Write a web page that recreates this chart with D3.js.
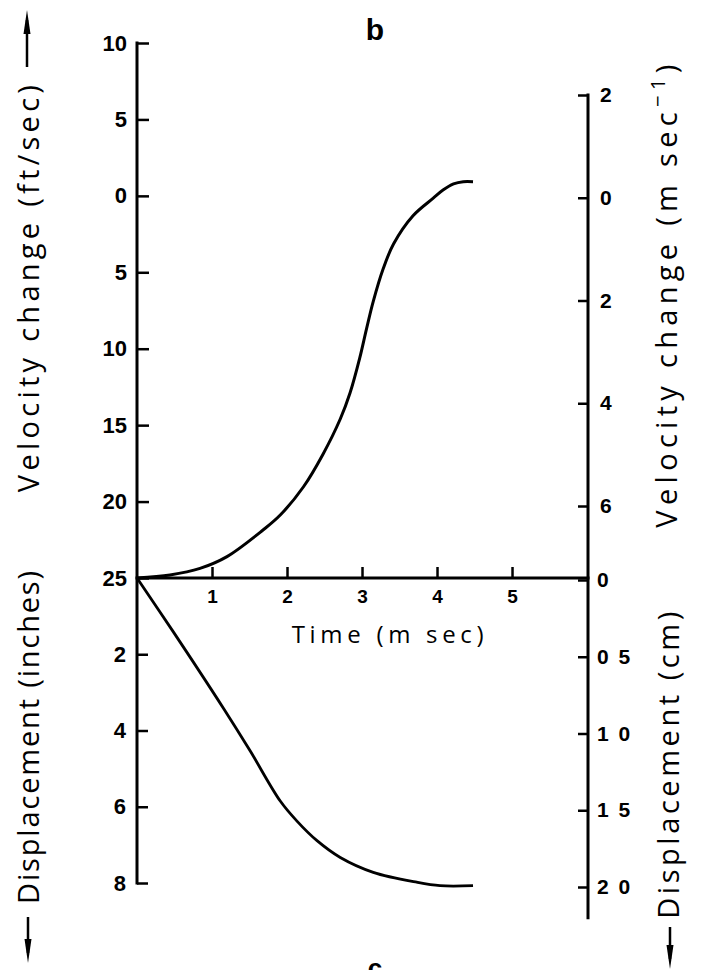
<!DOCTYPE html>
<html><head><meta charset="utf-8">
<script src="https://cdn.jsdelivr.net/npm/d3@7"></script>
<style>body{margin:0;background:#fff}svg{display:block}</style>
</head><body>
<svg id="chart" width="705" height="970"></svg>
<script>
// ---- data ----
const velTime   = [0, 0.44, 0.84, 1.2, 1.68, 1.91, 2.22, 2.48, 2.71, 2.84, 2.97, 3.06, 3.15, 3.28, 3.42, 3.68, 3.95, 4.08, 4.22, 4.35, 4.48];
const velFtSec  = [-25, -24.8, -24.37, -23.6, -21.86, -20.88, -19.03, -16.9, -14.6, -12.9, -10.6, -8.7, -6.9, -4.8, -3.15, -1.3, -0.15, 0.38, 0.78, 0.93, 0.93];
const dispTime   = [0, 0.48, 1.15, 1.51, 1.91, 2.13, 2.4, 2.71, 3.15, 3.73, 4.04, 4.48];
const dispInches = [0, 1.4, 3.41, 4.54, 5.85, 6.37, 6.89, 7.33, 7.72, 7.98, 8.07, 8.07];
const timeTicks = [1, 2, 3, 4, 5];
const velFtTicks = [10, 5, 0, -5, -10, -15, -20, -25];
const velFtTickLabels = ["10", "5", "0", "5", "10", "15", "20", "25"];
const dispInTicks = [2, 4, 6, 8];
const dispInTickLabels = ["2", "4", "6", "8"];
const velMsTicks = [2, 0, -2, -4, -6];
const velMsTickLabels = ["2", "0", "2", "4", "6"];
const dispCmTicks = [0, 5, 10, 15, 20];
const dispCmTickLabels = ["0", "0 5", "1 0", "1 5", "2 0"];

// ---- layout ----
const svg = d3.select("#chart");
const leftX = 137, rightX = 588;
const x = d3.scaleLinear().domain([0, 6.013]).range([leftX, rightX]);
const yVel = d3.scaleLinear().domain([10, -25]).range([43, 578]);
const yMs = d3.scaleLinear().domain([2, -6]).range([95, 506]);
const yIn = d3.scaleLinear().domain([0, 8]).range([578, 883]);
const yCm = d3.scaleLinear().domain([0, 20]).range([580, 887]);
const axisY = yVel(-25);
const numFont = "'Liberation Sans', Arial, sans-serif";
const txtFont = "'Open Sans', 'DejaVu Sans', sans-serif";

function styleAxis(g, fs) {
  g.select(".domain").remove();
  g.selectAll(".tick line").attr("stroke", "#000").attr("stroke-width", 2.5);
  g.selectAll(".tick text").attr("fill", "#000").attr("font-family", numFont)
    .attr("font-weight", "bold").attr("font-size", fs);
}

// axes
svg.append("g").attr("transform", `translate(${leftX},0)`)
  .call(d3.axisLeft(yVel).tickValues(velFtTicks).tickFormat((d, i) => velFtTickLabels[i])
    .tickSizeInner(-12).tickSizeOuter(0).tickPadding(10))
  .call(g => styleAxis(g, 22));
svg.append("g").attr("transform", `translate(${leftX},0)`)
  .call(d3.axisLeft(yIn).tickValues(dispInTicks).tickFormat((d, i) => dispInTickLabels[i])
    .tickSizeInner(-11).tickSizeOuter(0).tickPadding(11))
  .call(g => styleAxis(g, 22));
svg.append("g").attr("transform", `translate(${rightX},0)`)
  .call(d3.axisRight(yMs).tickValues(velMsTicks).tickFormat((d, i) => velMsTickLabels[i])
    .tickSizeInner(-10).tickSizeOuter(0).tickPadding(12))
  .call(g => styleAxis(g, 21));
svg.append("g").attr("transform", `translate(${rightX},0)`)
  .call(d3.axisRight(yCm).tickValues(dispCmTicks).tickFormat((d, i) => dispCmTickLabels[i])
    .tickSizeInner(-10).tickSizeOuter(0).tickPadding(9))
  .call(g => styleAxis(g, 21))
  .call(g => g.selectAll(".tick text").attr("letter-spacing", 2));
svg.append("g").attr("transform", `translate(0,${axisY})`)
  .call(d3.axisBottom(x).tickValues(timeTicks).tickFormat(d3.format("d"))
    .tickSizeInner(-11).tickSizeOuter(0).tickPadding(12))
  .call(g => styleAxis(g, 19));

// axis lines
const axLine = (x1, y1, x2, y2) => svg.append("line").attr("x1", x1).attr("y1", y1).attr("x2", x2).attr("y2", y2)
  .attr("stroke", "#000").attr("stroke-width", 3).attr("stroke-linecap", "square");
axLine(leftX, yVel(10), leftX, yIn(8));
axLine(rightX, yMs(2), rightX, yCm(22));
axLine(leftX, axisY, rightX, axisY);

// curves
const smooth = d3.curveCatmullRom.alpha(0.5);
svg.append("path").datum(velTime.map((t, i) => [t, velFtSec[i]]))
  .attr("fill", "none").attr("stroke", "#000").attr("stroke-width", 3).attr("stroke-linejoin", "round")
  .attr("d", d3.line().x(d => x(d[0])).y(d => yVel(d[1])).curve(smooth));
svg.append("path").datum(dispTime.map((t, i) => [t, dispInches[i]]))
  .attr("fill", "none").attr("stroke", "#000").attr("stroke-width", 2.8).attr("stroke-linejoin", "round")
  .attr("d", d3.line().x(d => x(d[0])).y(d => yIn(d[1])).curve(smooth));

// text helpers
function fit(sel, target) {
  const n = sel.text().length;
  const w = sel.node().getComputedTextLength();
  sel.attr("letter-spacing", (target - w) / (n - 1));
}
function vLabel(cx, y1, y2, parts, fs) {
  const t = svg.append("text")
    .attr("transform", `translate(${cx},${(y1 + y2) / 2}) rotate(-90)`)
    .attr("text-anchor", "middle").attr("font-family", txtFont).attr("font-size", fs).attr("fill", "#000");
  parts.forEach(p => {
    const ts = t.append("tspan").text(p.t);
    if (p.sup) ts.attr("font-size", fs * 0.7).attr("dy", -fs * 0.42);
    if (p.back) ts.attr("dy", fs * 0.42);
  });
  fit(t, y2 - y1);
  return t;
}
vLabel(39, 83, 490, [{t: "Velocity change (ft/sec)"}], 29);
vLabel(39, 570, 903, [{t: "Displacement (inches)"}], 29);
vLabel(677, 62, 525, [{t: "Velocity change (m sec"}, {t: "\u22121", sup: true}, {t: ")", back: true}], 29);
vLabel(679, 610, 917, [{t: "Displacement (cm)"}], 29);

const tl = svg.append("text").attr("x", 390).attr("y", 643).attr("text-anchor", "middle")
  .attr("font-family", txtFont).attr("font-size", 24).attr("fill", "#000").text("Time (m sec)");
fit(tl, 192);

svg.append("text").attr("x", 375).attr("y", 40).attr("text-anchor", "middle")
  .attr("font-family", numFont).attr("font-weight", "bold").attr("font-size", 30).text("b");
svg.append("text").attr("x", 375).attr("y", 977).attr("text-anchor", "middle")
  .attr("font-family", numFont).attr("font-weight", "bold").attr("font-size", 26).text("c");

// arrows
function arrow(xc, yTail, yTip) {
  const dir = yTip < yTail ? 1 : -1;
  svg.append("line").attr("x1", xc).attr("x2", xc).attr("y1", yTail).attr("y2", yTip + dir * 10)
    .attr("stroke", "#000").attr("stroke-width", 2.5);
  svg.append("path").attr("d", `M${xc},${yTip} L${xc - 3.5},${yTip + dir * 24} L${xc + 3.5},${yTip + dir * 24} Z`)
    .attr("fill", "#000");
}
arrow(27, 67, 10);
arrow(28, 917, 963);
arrow(670, 927, 969);
</script>
</body></html>
